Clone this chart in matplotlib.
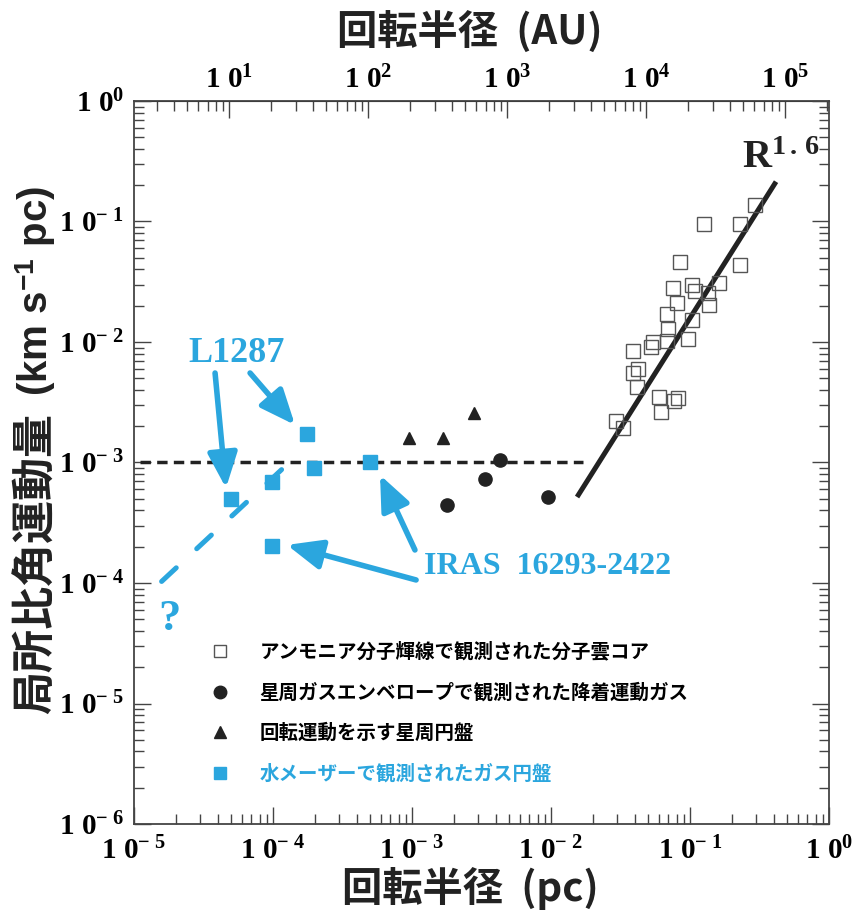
import matplotlib
matplotlib.use('Agg')
import matplotlib.pyplot as plt
from matplotlib.lines import Line2D
from matplotlib.ticker import FixedLocator, LogLocator, FuncFormatter, NullFormatter

plt.rcParams['mathtext.fontset'] = 'custom'
plt.rcParams['mathtext.rm'] = 'Liberation Serif:bold'
plt.rcParams['mathtext.bf'] = 'Liberation Serif:bold'
plt.rcParams['mathtext.it'] = 'Liberation Serif:bold:italic'
plt.rcParams['mathtext.sf'] = 'Liberation Sans:bold'
plt.rcParams['mathtext.default'] = 'rm'

JP = ['Noto Sans CJK JP', 'DejaVu Sans']
BLUE = '#2BA6DE'
INK = '#222222'

# ammonia cores (pc, km/s pc)
core_r = [0.294, 0.127, 0.229, 0.0847, 0.229, 0.0759, 0.1028, 0.1086, 0.1626, 0.1355,
          0.0811, 0.137, 0.0680, 0.1028, 0.0692, 0.0545, 0.0521, 0.0680, 0.0973, 0.0387,
          0.0421, 0.0387, 0.0414, 0.0601, 0.0824, 0.0771, 0.0618, 0.0292, 0.0328]
core_j = [0.137, 0.0948, 0.0948, 0.0464, 0.0436, 0.0279, 0.0297, 0.0265, 0.0307, 0.0254,
          0.0210, 0.0203, 0.0171, 0.0152, 0.0128, 0.00995, 0.00914, 0.0102, 0.0106, 0.00842,
          0.00597, 0.00550, 0.00421, 0.00352, 0.00341, 0.00326, 0.00261, 0.00222, 0.00194]
# infalling envelopes
env_r = [1.78e-3, 3.35e-3, 4.30e-3, 9.58e-3]
env_j = [4.44e-4, 7.26e-4, 1.05e-3, 5.20e-4]
# rotating disks
disk_r = [9.57e-4, 1.68e-3, 2.79e-3]
disk_j = [1.61e-3, 1.61e-3, 2.56e-3]
# water maser disks
maser_r = [4.99e-5, 9.8e-5, 9.8e-5, 1.75e-4, 1.98e-4, 4.99e-4]
maser_j = [4.98e-4, 6.93e-4, 2.03e-4, 1.71e-3, 9.05e-4, 1.0e-3]
# lines
fit_r = [0.0154, 0.416]
fit_j = [5.17e-4, 0.214]
const_r = [1.1e-5, 0.017]
const_j = [1e-3, 1e-3]
guess_r = [1.58e-5, 1.61e-4]
guess_j = [1.03e-4, 1.25e-3]

legend_labels = ['アンモニア分子輝線で観測された分子雲コア',
                 '星周ガスエンベロープで観測された降着運動ガス',
                 '回転運動を示す星周円盤',
                 '水メーザーで観測されたガス円盤']


def pow_label(v, pos=None):
    import math
    e = int(round(math.log10(v)))
    if e < 0:
        return r'$1\ 0^{-\ %d}$' % (-e)
    return r'$1\ 0^{%d}$' % e


W, H = 857, 913
fig = plt.figure(figsize=(W / 100, H / 100), dpi=100)
ax = fig.add_axes([134 / W, 1 - 824 / H, (829 - 134) / W, (824 - 101) / H])
ax.set_xscale('log')
ax.set_yscale('log')
ax.set_xlim(1e-5, 1)
ax.set_ylim(1e-6, 1)

ax.plot(const_r, const_j, color=INK, lw=2.5, ls=(0, (3, 1.8)))
ax.plot(fit_r, fit_j, color=INK, lw=3.6, solid_capstyle='butt')
ax.plot(guess_r, guess_j, color=BLUE, lw=3.6, ls=(0, (4, 5.6)), dash_capstyle='round')

ax.plot(core_r, core_j, 's', mfc='none', mec='#555555', ms=9.5, mew=1.0)
ax.plot(env_r, env_j, 'o', color=INK, ms=9.5)
ax.plot(disk_r, disk_j, '^', color=INK, ms=9)
ax.plot(maser_r, maser_j, 's', color=BLUE, ms=9.5)

# annotations
aprops = dict(arrowstyle='-|>,head_length=0.85,head_width=0.36', lw=4, color=BLUE,
              shrinkA=0, shrinkB=0, mutation_scale=25)
ax.annotate('', xy=(4.59e-5, 6.14e-4), xytext=(3.83e-5, 5.53e-3), arrowprops=aprops)
ax.annotate('', xy=(1.44e-4, 2.05e-3), xytext=(6.84e-5, 5.53e-3), arrowprops=aprops)
ax.annotate('', xy=(5.89e-4, 7.87e-4), xytext=(1.05e-3, 1.88e-4), arrowprops=aprops)
ax.annotate('', xy=(1.26e-4, 2.07e-4), xytext=(1.07e-3, 1.06e-4), arrowprops=aprops)

ax.text(5.51e-5, 8.1e-3, 'L1287', color=BLUE, family='Liberation Serif', weight='bold',
        fontsize=26, ha='center', va='center')
ax.text(9.5e-3, 1.36e-4, 'IRAS  16293-2422', color=BLUE, family='Liberation Serif',
        weight='bold', fontsize=23, ha='center', va='center')
ax.text(1.81e-5, 5.0e-5, '?', color=BLUE, family='Liberation Serif', weight='bold',
        fontsize=32, ha='center', va='center')
ax.text(0.2366, 0.278, r'$\mathbf{R^{1\,.\,6}}$', color=INK, fontsize=29,
        ha='left', va='baseline')

# axes styling
for s in ax.spines.values():
    s.set_color('#444444')
    s.set_linewidth(1.3)
ax.xaxis.set_major_locator(FixedLocator([1e-5, 1e-4, 1e-3, 1e-2, 1e-1, 1]))
ax.yaxis.set_major_locator(FixedLocator([1e-6, 1e-5, 1e-4, 1e-3, 1e-2, 1e-1, 1]))
ax.xaxis.set_major_formatter(FuncFormatter(pow_label))
ax.yaxis.set_major_formatter(FuncFormatter(pow_label))
ax.xaxis.set_minor_locator(LogLocator(subs=range(2, 10), numticks=20))
ax.yaxis.set_minor_locator(LogLocator(subs=range(2, 10), numticks=20))
ax.xaxis.set_minor_formatter(NullFormatter())
ax.yaxis.set_minor_formatter(NullFormatter())
ax.tick_params(which='both', direction='in', top=False, right=True, color='#444444', width=1)
ax.tick_params(which='major', length=12, labelsize=21)
ax.tick_params(which='minor', length=7)
ax.tick_params(axis='x', pad=9)
ax.tick_params(axis='y', pad=7)

sec = ax.secondary_xaxis('top', functions=(lambda x: x * 206265.0, lambda x: x / 206265.0))
sec.set_xscale('log')
sec.xaxis.set_major_locator(FixedLocator([1e1, 1e2, 1e3, 1e4, 1e5]))
sec.xaxis.set_major_formatter(FuncFormatter(pow_label))
sec.xaxis.set_minor_locator(LogLocator(subs=range(2, 10), numticks=20))
sec.xaxis.set_minor_formatter(NullFormatter())
sec.tick_params(which='both', direction='in', color='#444444', width=1)
sec.tick_params(which='major', length=12, labelsize=21, pad=5)
sec.tick_params(which='minor', length=7)

# legend
handles = [Line2D([], [], ls='none', marker='s', mfc='none', mec='#555555', ms=8.5, mew=1.0),
           Line2D([], [], ls='none', marker='o', color=INK, ms=9),
           Line2D([], [], ls='none', marker='^', color=INK, ms=8.5),
           Line2D([], [], ls='none', marker='s', color=BLUE, ms=8.5)]
leg = ax.legend(handles, legend_labels, loc='upper left', bbox_to_anchor=(201 / W, 1 - 632 / H),
                bbox_transform=fig.transFigure, frameon=False, borderpad=0,
                handlelength=1.0, handletextpad=1.5, labelspacing=1.1,
                prop=dict(family=JP, weight='bold', size=14))
leg.get_texts()[3].set_color(BLUE)

fig.text(470 / W, 1 - 889 / H, '回転半径  (pc)', family=JP, weight='bold', fontsize=29,
         ha='center', va='center', color=INK)
fig.text(470 / W, 1 - 33 / H, '回転半径  (AU)', family=JP, weight='bold', fontsize=29,
         ha='center', va='center', color=INK)
fig.text(36 / W, 1 - 563 / H, '局所比角運動量', family=JP, weight='bold', fontsize=31,
         rotation=90, ha='center', va='center', color=INK)
fig.text(36 / W, 1 - 291 / H, r'(km s$^{\mathsf{-1}}$ pc)', family='Liberation Sans',
         weight='bold', fontsize=29, rotation=90, ha='center', va='center', color=INK)

fig.savefig('out.png', dpi=100)
